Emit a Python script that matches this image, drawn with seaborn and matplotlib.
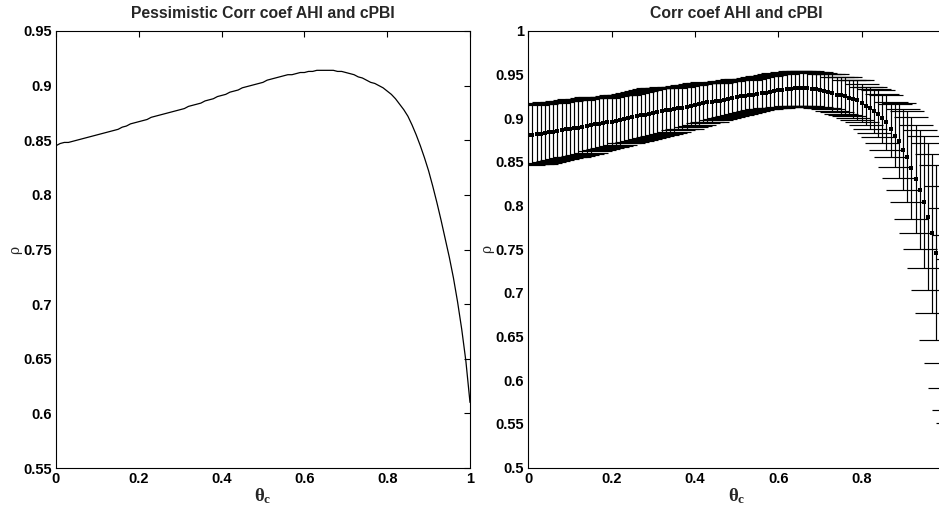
import matplotlib
matplotlib.use("Agg")
import matplotlib.pyplot as plt
import seaborn as sns

# ---------------- data ----------------
theta_c = [0.00, 0.01, 0.02, 0.03, 0.04, 0.05, 0.06, 0.07, 0.08, 0.09,
           0.10, 0.11, 0.12, 0.13, 0.14, 0.15, 0.16, 0.17, 0.18, 0.19,
           0.20, 0.21, 0.22, 0.23, 0.24, 0.25, 0.26, 0.27, 0.28, 0.29,
           0.30, 0.31, 0.32, 0.33, 0.34, 0.35, 0.36, 0.37, 0.38, 0.39,
           0.40, 0.41, 0.42, 0.43, 0.44, 0.45, 0.46, 0.47, 0.48, 0.49,
           0.50, 0.51, 0.52, 0.53, 0.54, 0.55, 0.56, 0.57, 0.58, 0.59,
           0.60, 0.61, 0.62, 0.63, 0.64, 0.65, 0.66, 0.67, 0.68, 0.69,
           0.70, 0.71, 0.72, 0.73, 0.74, 0.75, 0.76, 0.77, 0.78, 0.79,
           0.80, 0.81, 0.82, 0.83, 0.84, 0.85, 0.86, 0.87, 0.88, 0.89,
           0.90, 0.91, 0.92, 0.93, 0.94, 0.95, 0.96, 0.97, 0.98, 0.99,
           1.00, 1.01, 1.02]

# left panel: pessimistic correlation coefficient (x = 0 .. 1)
rho_pess = [0.845, 0.847, 0.848, 0.848, 0.849, 0.850, 0.851, 0.852, 0.853, 0.854,
            0.855, 0.856, 0.857, 0.858, 0.859, 0.860, 0.862, 0.863, 0.865, 0.866,
            0.867, 0.868, 0.869, 0.871, 0.872, 0.873, 0.874, 0.875, 0.876, 0.877,
            0.878, 0.879, 0.881, 0.882, 0.883, 0.884, 0.886, 0.887, 0.888, 0.890,
            0.891, 0.892, 0.894, 0.895, 0.896, 0.898, 0.899, 0.900, 0.901, 0.902,
            0.903, 0.905, 0.906, 0.907, 0.908, 0.909, 0.910, 0.910, 0.911, 0.912,
            0.912, 0.913, 0.913, 0.914, 0.914, 0.914, 0.914, 0.914, 0.913, 0.913,
            0.912, 0.911, 0.910, 0.908, 0.907, 0.905, 0.903, 0.902, 0.900, 0.898,
            0.895, 0.892, 0.888, 0.883, 0.878, 0.872, 0.864, 0.855, 0.845, 0.834,
            0.822, 0.808, 0.793, 0.777, 0.760, 0.743, 0.724, 0.702, 0.677, 0.648,
            0.610]

# right panel: mean correlation coefficient and error half-width
rho_mean = [0.881, 0.881, 0.882, 0.882, 0.883, 0.884, 0.884, 0.885, 0.886, 0.887,
            0.888, 0.889, 0.889, 0.890, 0.891, 0.892, 0.893, 0.893, 0.894, 0.895,
            0.896, 0.897, 0.898, 0.899, 0.900, 0.901, 0.902, 0.903, 0.904, 0.905,
            0.906, 0.907, 0.908, 0.909, 0.909, 0.910, 0.911, 0.912, 0.913, 0.914,
            0.915, 0.916, 0.917, 0.918, 0.918, 0.919, 0.920, 0.921, 0.922, 0.923,
            0.924, 0.925, 0.925, 0.926, 0.927, 0.928, 0.929, 0.929, 0.930, 0.931,
            0.932, 0.932, 0.933, 0.933, 0.934, 0.934, 0.934, 0.934, 0.933, 0.933,
            0.932, 0.931, 0.930, 0.929, 0.927, 0.926, 0.925, 0.923, 0.922, 0.921,
            0.917, 0.914, 0.912, 0.908, 0.905, 0.900, 0.895, 0.887, 0.880, 0.874,
            0.864, 0.856, 0.843, 0.830, 0.818, 0.804, 0.787, 0.768, 0.746, 0.721,
            0.694, 0.666, 0.645]

rho_err = [0.035, 0.034, 0.034, 0.034, 0.034, 0.034, 0.033, 0.033, 0.033, 0.033,
           0.033, 0.033, 0.032, 0.032, 0.032, 0.032, 0.031, 0.030, 0.029, 0.029,
           0.029, 0.029, 0.029, 0.028, 0.028, 0.028, 0.028, 0.028, 0.028, 0.028,
           0.028, 0.028, 0.027, 0.027, 0.026, 0.026, 0.025, 0.025, 0.025, 0.024,
           0.024, 0.024, 0.023, 0.023, 0.022, 0.021, 0.021, 0.021, 0.021, 0.021,
           0.021, 0.020, 0.019, 0.019, 0.019, 0.019, 0.019, 0.019, 0.019, 0.019,
           0.020, 0.019, 0.020, 0.019, 0.020, 0.020, 0.020, 0.020, 0.020, 0.020,
           0.020, 0.020, 0.020, 0.021, 0.020, 0.021, 0.022, 0.021, 0.022, 0.023,
           0.022, 0.022, 0.024, 0.025, 0.027, 0.028, 0.031, 0.031, 0.036, 0.043,
           0.046, 0.052, 0.058, 0.062, 0.068, 0.076, 0.084, 0.091, 0.100, 0.101,
           0.103, 0.100, 0.094]

x_ticks = [0, 0.2, 0.4, 0.6, 0.8, 1.0]
x_labels_left = ["0", "0.2", "0.4", "0.6", "0.8", "1"]
x_labels_right = ["0", "0.2", "0.4", "0.6", "0.8", ""]  # "1" lies outside the cropped figure
y_ticks_left = [0.55, 0.60, 0.65, 0.70, 0.75, 0.80, 0.85, 0.90, 0.95]
y_labels_left = ["0.55", "0.6", "0.65", "0.7", "0.75", "0.8", "0.85", "0.9", "0.95"]
y_ticks_right = [0.50, 0.55, 0.60, 0.65, 0.70, 0.75, 0.80, 0.85, 0.90, 0.95, 1.00]
y_labels_right = ["0.5", "0.55", "0.6", "0.65", "0.7", "0.75", "0.8", "0.85", "0.9", "0.95", "1"]

title_left = "Pessimistic Corr coef AHI and cPBI"
title_right = "Corr coef AHI and cPBI"

# ---------------- style ----------------
sns.set_style("white")
plt.rcParams["font.family"] = ["Liberation Sans", "DejaVu Sans"]
plt.rcParams["font.weight"] = "bold"
plt.rcParams["mathtext.fontset"] = "custom"
plt.rcParams["mathtext.rm"] = "Liberation Serif:bold"
plt.rcParams["mathtext.it"] = "Liberation Serif:bold"
plt.rcParams["mathtext.bf"] = "Liberation Sans:bold"

W, H = 939, 509
fig = plt.figure(figsize=(W / 100, H / 100), dpi=100)
ax1 = fig.add_axes([56 / W, 41 / H, 414 / W, 437 / H])
ax2 = fig.add_axes([528.3 / W, 41.3 / H, 416.5 / W, 437 / H])

# left panel
sns.lineplot(x=theta_c[:len(rho_pess)], y=rho_pess, ax=ax1, color="black",
             linewidth=0.9)
ax1.set_xlim(0, 1)
ax1.set_ylim(0.55, 0.95)
ax1.set_xticks(x_ticks, x_labels_left)
ax1.set_yticks(y_ticks_left, y_labels_left)

# right panel
ax2.errorbar(theta_c, rho_mean, yerr=rho_err, fmt="none", ecolor="black",
             elinewidth=0.85, capsize=12, capthick=0.85)
sns.scatterplot(x=theta_c, y=rho_mean, ax=ax2, color="black", marker="s",
                s=5, linewidth=0, zorder=3)
ax2.set_xlim(0, 1)
ax2.set_ylim(0.5, 1.0)
ax2.set_xticks(x_ticks, x_labels_right)
ax2.set_yticks(y_ticks_right, y_labels_right)

for ax, title in ((ax1, title_left), (ax2, title_right)):
    ax.tick_params(direction="in", top=True, right=True, length=4, width=0.8,
                   labelsize=10.5, colors="black", pad=3)
    for lab in ax.get_xticklabels() + ax.get_yticklabels():
        lab.set_fontweight("bold")
    for sp in ax.spines.values():
        sp.set_visible(True)
        sp.set_color("black")
        sp.set_linewidth(0.8)
    ax.set_title(title, fontsize=11.3, fontweight="bold", pad=9)
    ax.set_xlabel(r"$\theta_c$", fontsize=13.5, labelpad=0)
    ax.set_ylabel("ρ", fontsize=10, fontweight="normal", labelpad=1,
                  family=["DejaVu Serif", "DejaVu Sans"])
    ax.grid(False)

fig.savefig("out.png", dpi=100, facecolor="white")
